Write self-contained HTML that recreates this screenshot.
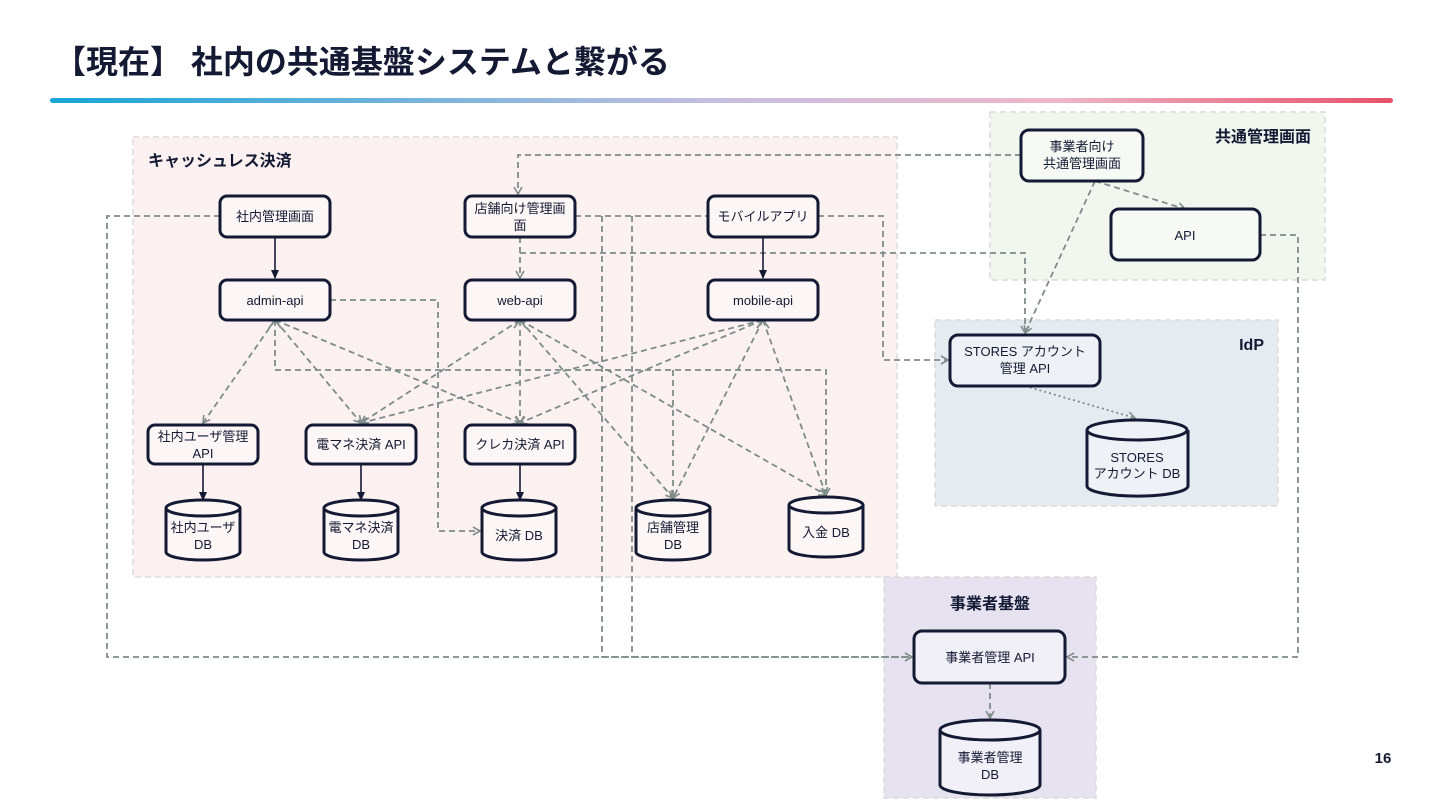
<!DOCTYPE html>
<html><head><meta charset="utf-8"><style>
html,body{margin:0;padding:0;background:#fff;}
svg{display:block;}
text{font-family:"Liberation Sans","Noto Sans CJK JP",sans-serif;fill:#141a33;}
</style></head><body>
<svg width="1440" height="810" viewBox="0 0 1440 810" xmlns="http://www.w3.org/2000/svg">
<defs>
<linearGradient id="g" x1="0" x2="1" y1="0" y2="0">
<stop offset="0" stop-color="#16a6d6"/><stop offset="0.5" stop-color="#c7bfe0"/><stop offset="0.75" stop-color="#efb6c8"/><stop offset="1" stop-color="#e8506a"/>
</linearGradient>
<marker id="ag" markerWidth="10" markerHeight="10" refX="8" refY="5" orient="auto" markerUnits="userSpaceOnUse"><path d="M1,1 L8,5 L1,9" fill="none" stroke="#7f8c8a" stroke-width="1.6"/></marker>
<marker id="ak" markerWidth="10" markerHeight="10" refX="8" refY="5" orient="auto" markerUnits="userSpaceOnUse"><path d="M0,1 L9,5 L0,9 Z" fill="#141a33"/></marker>
</defs>
<text x="54" y="73" font-size="32" font-weight="bold">【現在】 社内の共通基盤システムと繋がる</text>
<rect x="50" y="98" width="1343" height="5" rx="2.5" fill="url(#g)"/>
<text x="1383" y="763" font-size="15" font-weight="bold" text-anchor="middle">16</text>

<g stroke="#dcdcdc" stroke-width="1.5" stroke-dasharray="6,4">
<rect x="133" y="137" width="764" height="440" fill="#fbf1f0"/>
<rect x="990" y="112" width="335" height="168" fill="#f1f6ee"/>
<rect x="935" y="320" width="343" height="186" fill="#e4ecf2"/>
<rect x="884" y="577" width="212" height="221" fill="#e6e2f0"/>
</g>
<g font-size="16" font-weight="bold">
<text x="148" y="166">キャッシュレス決済</text>
<text x="1311" y="142" text-anchor="end">共通管理画面</text>
<text x="1264" y="350" text-anchor="end">IdP</text>
<text x="990" y="609" text-anchor="middle">事業者基盤</text>
</g>

<g fill="none" stroke="#7f8c8a" stroke-width="1.8" stroke-dasharray="6,4">
<path d="M220,216 H107 V657 H912" marker-end="url(#ag)"/>
<path d="M575,216 H708"/>
<path d="M602,216 V657 H912"/>
<path d="M632,216 V657"/>
<path d="M818,216 H883 V360 H948" marker-end="url(#ag)"/>
<path d="M1021,155 H518 V194" marker-end="url(#ag)"/>
<path d="M520,237 V278" marker-end="url(#ag)"/>
<path d="M520,253 H1025 V333" marker-end="url(#ag)"/>
<path d="M1095,181 L1185,209" marker-end="url(#ag)"/>
<path d="M1095,181 L1025,333" marker-end="url(#ag)"/>
<path d="M1260,235 H1298 V657 H1067" marker-end="url(#ag)"/>
<path d="M990,683 V718" marker-end="url(#ag)"/>
<path d="M330,300 H438 V531 H480" marker-end="url(#ag)"/>
<path d="M275,320 L203,423" marker-end="url(#ag)"/>
<path d="M275,320 L361,423" marker-end="url(#ag)"/>
<path d="M275,320 L520,423" marker-end="url(#ag)"/>
<path d="M275,320 V370 H826 V495" marker-end="url(#ag)"/>
<path d="M673,370 V498" marker-end="url(#ag)"/>
<path d="M520,320 L361,423" marker-end="url(#ag)"/>
<path d="M520,320 V423" marker-end="url(#ag)"/>
<path d="M520,320 L673,498" marker-end="url(#ag)"/>
<path d="M520,320 L826,495" marker-end="url(#ag)"/>
<path d="M763,320 L361,423" marker-end="url(#ag)"/>
<path d="M763,320 L520,423" marker-end="url(#ag)"/>
<path d="M763,320 L673,498" marker-end="url(#ag)"/>
<path d="M763,320 L826,495" marker-end="url(#ag)"/>
<path d="M1025,386 L1135,418" stroke-dasharray="2,3" marker-end="url(#ag)"/>
</g>
<g stroke="#7f8c8a" stroke-width="1.8" fill="none">
<path d="M269,328 L275,320 L281,328"/>
<path d="M514,328 L520,320 L526,328"/>
<path d="M757,328 L763,320 L769,328"/>
</g>

<g stroke="#141a33" stroke-width="1.6" fill="none">
<path d="M275,237 V278" marker-end="url(#ak)"/>
<path d="M763,237 V278" marker-end="url(#ak)"/>
<path d="M203,464 V500" marker-end="url(#ak)"/>
<path d="M361,464 V500" marker-end="url(#ak)"/>
<path d="M520,464 V500" marker-end="url(#ak)"/>
</g>

<g fill="#fcf7f6" stroke="#141a33" stroke-width="3">
<rect x="220" y="196" width="110" height="41" rx="7"/>
<rect x="465" y="196" width="110" height="41" rx="7"/>
<rect x="708" y="196" width="110" height="41" rx="7"/>
<rect x="220" y="280" width="110" height="40" rx="7"/>
<rect x="465" y="280" width="110" height="40" rx="7"/>
<rect x="708" y="280" width="110" height="40" rx="7"/>
<rect x="148" y="425" width="110" height="39" rx="7"/>
<rect x="306" y="425" width="110" height="39" rx="7"/>
<rect x="465" y="425" width="110" height="39" rx="7"/>
<rect x="1021" y="130" width="122" height="51" rx="8" fill="#f6f9f4"/>
<rect x="1111" y="209" width="149" height="51" rx="8" fill="#f6f9f4"/>
<rect x="950" y="335" width="150" height="51" rx="8" fill="#eef2f6"/>
<rect x="914" y="631" width="151" height="52" rx="8" fill="#f1eff7"/>
</g>
<g font-size="13" text-anchor="middle">
<text x="275" y="221">社内管理画面</text>
<text x="520" y="213">店舗向け管理画</text><text x="520" y="230">面</text>
<text x="763" y="221">モバイルアプリ</text>
<text x="275" y="305">admin-api</text>
<text x="520" y="305">web-api</text>
<text x="763" y="305">mobile-api</text>
<text x="203" y="441">社内ユーザ管理</text><text x="203" y="458">API</text>
<text x="361" y="449">電マネ決済 API</text>
<text x="520" y="449">クレカ決済 API</text>
<text x="1082" y="151">事業者向け</text><text x="1082" y="168">共通管理画面</text>
<text x="1185" y="240">API</text>
<text x="1025" y="356">STORES アカウント</text><text x="1025" y="373">管理 API</text>
<text x="990" y="662">事業者管理 API</text>
</g>

<g fill="#fcf7f6" stroke="#141a33" stroke-width="3">
<path d="M166,508 V552 A37,8 0 0 0 240,552 V508"/><ellipse cx="203" cy="508" rx="37" ry="8"/>
<path d="M324,508 V552 A37,8 0 0 0 398,552 V508"/><ellipse cx="361" cy="508" rx="37" ry="8"/>
<path d="M482,508 V552 A37,8 0 0 0 556,552 V508"/><ellipse cx="519" cy="508" rx="37" ry="8"/>
<path d="M636,508 V552 A37,8 0 0 0 710,552 V508"/><ellipse cx="673" cy="508" rx="37" ry="8"/>
<path d="M789,505 V549 A37,8 0 0 0 863,549 V505"/><ellipse cx="826" cy="505" rx="37" ry="8"/>
<path d="M1087,430 V486 A50,10 0 0 0 1188,486 V430" fill="#eef2f6"/><ellipse cx="1137" cy="430" rx="50" ry="10" fill="#eef2f6"/>
<path d="M940,730 V785 A50,10 0 0 0 1040,785 V730" fill="#f1eff7"/><ellipse cx="990" cy="730" rx="50" ry="10" fill="#f1eff7"/>
</g>
<g font-size="13" text-anchor="middle">
<text x="203" y="532">社内ユーザ</text><text x="203" y="549">DB</text>
<text x="361" y="532">電マネ決済</text><text x="361" y="549">DB</text>
<text x="519" y="540">決済 DB</text>
<text x="673" y="532">店舗管理</text><text x="673" y="549">DB</text>
<text x="826" y="537">入金 DB</text>
<text x="1137" y="462">STORES</text><text x="1137" y="478">アカウント DB</text>
<text x="990" y="762">事業者管理</text><text x="990" y="779">DB</text>
</g>
</svg>
</body></html>
